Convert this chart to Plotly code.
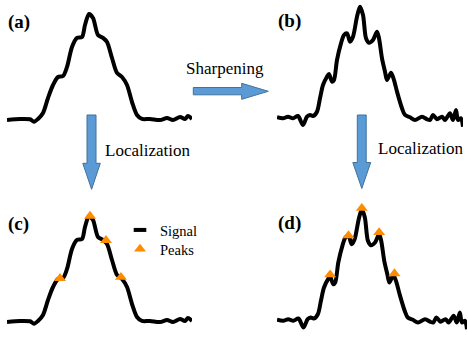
import plotly.graph_objects as go

# ---------------- data ----------------
# raw signal, panels (a) and (c)
signal_a_x = [0, 13, 23, 27, 31, 36, 41, 46, 51, 56, 60, 65, 70, 75, 78, 82, 86, 91, 96, 100,
              105, 110, 115, 120, 125, 130, 135, 143, 153, 160, 166, 173, 178, 181, 185]
signal_a_y = [-0.5, 0.5, 0.2, -2.1, 0.5, 6.2, 20.4, 32.7, 40.3, 41.2, 49.8, 68.7, 77.3, 78.2, 89.6,
              100, 96.2, 80.1, 77.3, 73.5, 58.3, 44.1, 40.3, 32.7, 16.6, 4.3, 0.5, 0.5, -0.5, 1.4,
              -0.5, 2.4, 0.5, 3.3, 0.5]

# sharpened signal, panels (b) and (d)
signal_b_x = [0, 6, 11, 16, 21, 26, 30, 33, 36, 40, 43, 46, 50, 52, 55, 57, 60, 64, 67, 70,
              73, 76, 80, 83, 86, 89, 92, 96, 100, 102, 105, 108, 110, 114, 117, 120, 125, 128,
              133, 138, 145, 150, 153, 156, 160, 165, 168, 173, 176, 179, 181, 184, 186]
signal_b_y = [0.2, -0.8, 0.8, -0.8, 1.4, -7.1, 0.8, 2.4, 1.4, 5.5, 18.2, 30.8, 38.7, 41.2, 33.9,
              35.6, 54.5, 70.3, 78.2, 79.8, 71.9, 76.6, 95.6, 105.0, 97.2, 75.1, 70.9, 73.5, 81.3,
              75.1, 56.1, 43.4, 35.5, 42.5, 35.5, 24.5, 8.7, 2.4, 0.2, -2.4, 0.8, -1.7, -2.4, 2.4,
              -1.7, 0.8, -2.4, 4.0, -2.4, 7.1, -2.4, -0.8, -8.7]

# localized peaks
peaks_c_x = [53, 83, 99, 114]
peaks_c_y = [41, 100, 77, 42]
peaks_d_x = [52, 70, 83, 100, 115]
peaks_d_y = [43, 80, 106, 83, 44]

panel_labels = ["(a)", "(b)", "(c)", "(d)"]
step_labels = ["Sharpening", "Localization", "Localization"]
legend_labels = ["Signal", "Peaks"]

# ---------------- styling ----------------
W, H = 468, 337
SERIF = "Liberation Serif"
ORANGE = "#FF8C00"
ARROW_FILL = "#5B9BD5"
ARROW_LINE = "#41719C"
K = 1.055          # pixels per amplitude unit
YR = [-12, 110]


def dom_x(p0, p1):
    return [p0 / W, p1 / W]


def dom_y(base_px, yr=YR):
    bot = base_px - yr[0] * K
    top = base_px - yr[1] * K
    return [1 - bot / H, 1 - top / H]


fig = go.Figure()

# panel axes: name -> (axis number, x px start, x px end, baseline px, x range)
panels = {
    "a": (2, 7, 192, 119.5, [0, 185]),
    "b": (3, 277, 463, 117.5, [0, 186]),
    "c": (4, 7, 192, 321.5, [0, 185]),
    "d": (5, 277, 467, 320.0, [0, 186]),
}

layout_axes = {}
for key, (n, x0, x1, base, xr) in panels.items():
    layout_axes[f"xaxis{n}"] = dict(domain=dom_x(x0, x1), range=xr, visible=False,
                                    anchor=f"y{n}", fixedrange=True)
    layout_axes[f"yaxis{n}"] = dict(domain=dom_y(base), range=YR, visible=False,
                                    anchor=f"x{n}", fixedrange=True)

line_style = dict(color="black", width=4, shape="spline", smoothing=0.8)

for key, xs, ys in [("a", signal_a_x, signal_a_y), ("b", signal_b_x, signal_b_y),
                    ("c", signal_a_x, signal_a_y), ("d", signal_b_x, signal_b_y)]:
    n = panels[key][0]
    fig.add_trace(go.Scatter(x=xs, y=ys, mode="lines", line=line_style,
                             xaxis=f"x{n}", yaxis=f"y{n}", showlegend=False,
                             hoverinfo="skip"))

for key, xs, ys, show in [("c", peaks_c_x, peaks_c_y, True), ("d", peaks_d_x, peaks_d_y, False)]:
    n = panels[key][0]
    fig.add_trace(go.Scatter(x=xs, y=ys, mode="markers", name=legend_labels[1],
                             marker=dict(symbol="triangle-up", size=10.5, color=ORANGE),
                             xaxis=f"x{n}", yaxis=f"y{n}", cliponaxis=False,
                             showlegend=show, legend="legend2"))

# legend entry for the signal (short thick dash)
fig.add_trace(go.Scatter(x=[None], y=[None], mode="markers", name=legend_labels[0],
                         marker=dict(symbol="line-ew", size=9, color="black",
                                     line=dict(color="black", width=4)),
                         xaxis="x2", yaxis="y2", showlegend=True, legend="legend"))

# ---------------- arrows (pixel overlay axis) ----------------
shapes = [
    dict(type="path", xref="x", yref="y",
         path="M193.3,87.5 L241.7,87.5 L241.7,83.3 L268.3,91.3 L241.7,99.3 L241.7,94.8 L193.3,94.8 Z",
         fillcolor=ARROW_FILL, line=dict(color=ARROW_LINE, width=1)),
    dict(type="path", xref="x", yref="y",
         path="M87,115 L96,115 L96,163.3 L100.3,163.3 L91.6,189.3 L82.8,163.3 L87,163.3 Z",
         fillcolor=ARROW_FILL, line=dict(color=ARROW_LINE, width=1)),
    dict(type="path", xref="x", yref="y",
         path="M357.3,115 L366.2,115 L366.2,162.5 L370.7,162.5 L361.8,188.5 L352.8,162.5 L357.3,162.5 Z",
         fillcolor=ARROW_FILL, line=dict(color=ARROW_LINE, width=1)),
]

annotations = []
for text, x, y in [(step_labels[0], 225, 68), (step_labels[1], 147, 150), (step_labels[2], 420.5, 148)]:
    annotations.append(dict(text=text, x=x, y=y, xref="x", yref="y", showarrow=False,
                            xanchor="center", yanchor="middle",
                            font=dict(family=SERIF, size=17, color="black")))
for text, x, y in zip(panel_labels, [19, 289, 18.5, 289], [22, 21, 224, 223]):
    annotations.append(dict(text=f"<b>{text}</b>", x=x, y=y, xref="x", yref="y",
                            showarrow=False, xanchor="center", yanchor="middle",
                            font=dict(family=SERIF, size=19, color="black")))

fig.update_layout(
    width=W, height=H, autosize=False,
    margin=dict(l=0, r=0, t=0, b=0),
    paper_bgcolor="white", plot_bgcolor="rgba(0,0,0,0)",
    font=dict(family=SERIF, color="black"),
    xaxis=dict(range=[0, W], domain=[0, 1], visible=False, fixedrange=True),
    yaxis=dict(range=[H, 0], domain=[0, 1], visible=False, fixedrange=True),
    shapes=shapes, annotations=annotations,
    legend=dict(x=120 / W, y=1 - 214 / H, xanchor="left", yanchor="top",
                bgcolor="rgba(0,0,0,0)", font=dict(family=SERIF, size=14.5, color="black")),
    legend2=dict(x=120 / W, y=1 - 233 / H, xanchor="left", yanchor="top",
                 bgcolor="rgba(0,0,0,0)", font=dict(family=SERIF, size=14.5, color="black")),
    **layout_axes,
)

fig.write_html("out.html", config={"displayModeBar": False},
               post_script="document.body.style.margin='0px';")
